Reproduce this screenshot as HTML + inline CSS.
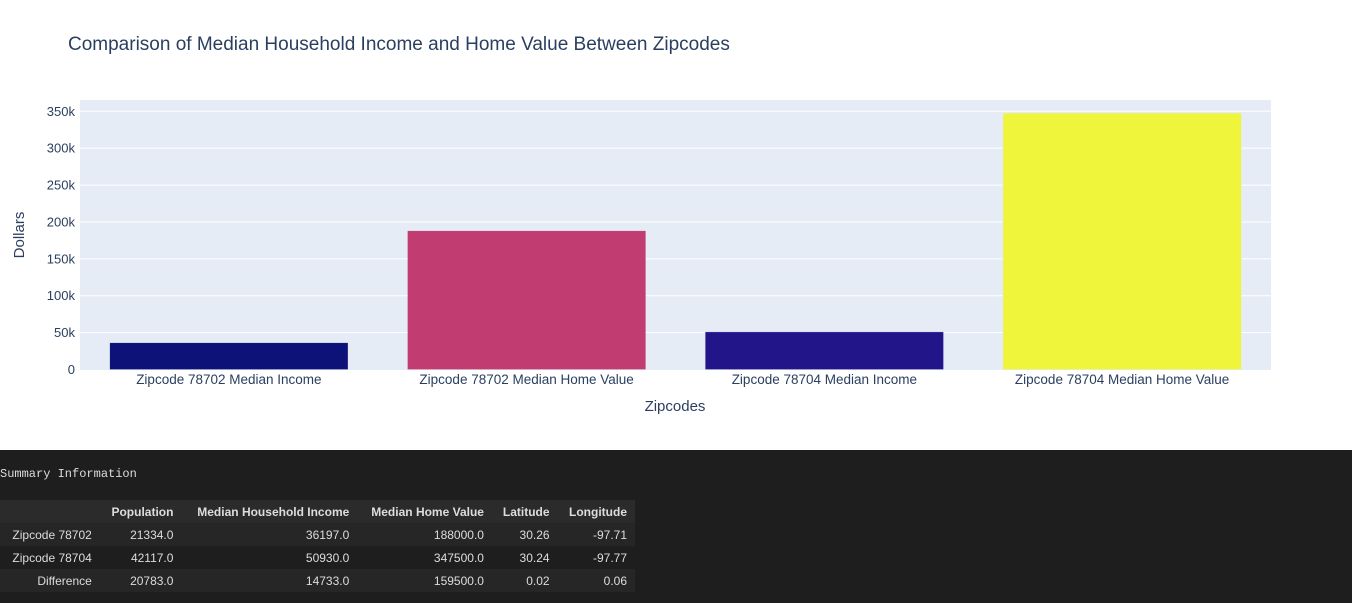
<!DOCTYPE html>
<html><head><meta charset="utf-8"><style>
body{margin:0;width:1352px;height:603px;overflow:hidden;background:#fff;font-family:"Liberation Sans",Arial,sans-serif}
#dark{position:absolute;left:0;top:450px;width:1352px;height:153px;background:#1e1e1e;color:#ddd}
#sumt{position:absolute;left:0;top:17px;font:12px "Liberation Mono",monospace;color:#ddd}
table{position:absolute;left:0;top:50px;border-collapse:collapse;font-size:12px;width:635px}
td,th{text-align:right;padding:0 8px;height:23px;white-space:nowrap}
th{font-weight:bold;background:#2b2b2b}
tr.s td{background:#262626}
</style></head><body>
<svg width="1352" height="450" style="position:absolute;left:0;top:0">
<text x="68" y="50" font-size="19" fill="#2a3f5f">Comparison of Median Household Income and Home Value Between Zipcodes</text>
<rect x="80" y="100" width="1191" height="270" fill="#e5ecf6"/>
<g id="grid"></g><g id="bars"></g><g id="ticks"></g>
<text x="24" y="235" font-size="15" fill="#2a3f5f" text-anchor="middle" transform="rotate(-90 24 235)">Dollars</text>
<text x="675" y="411" font-size="15" fill="#2a3f5f" text-anchor="middle">Zipcodes</text>
</svg>
<div id="dark">
<div id="sumt">Summary Information</div>
<table>
<tr><th></th><th>Population</th><th>Median Household Income</th><th>Median Home Value</th><th>Latitude</th><th>Longitude</th></tr>
<tr class="s"><td>Zipcode 78702</td><td>21334.0</td><td>36197.0</td><td>188000.0</td><td>30.26</td><td>-97.71</td></tr>
<tr><td>Zipcode 78704</td><td>42117.0</td><td>50930.0</td><td>347500.0</td><td>30.24</td><td>-97.77</td></tr>
<tr class="s"><td>Difference</td><td>20783.0</td><td>14733.0</td><td>159500.0</td><td>0.02</td><td>0.06</td></tr>
</table></div>
<script>
const categories=["Zipcode 78702 Median Income","Zipcode 78702 Median Home Value","Zipcode 78704 Median Income","Zipcode 78704 Median Home Value"];
const values=[36197,188000,50930,347500];
const colors=["#0d1278","#c03c71","#22158a","#eef53a"];
const yTicks=[0,50000,100000,150000,200000,250000,300000,350000];
const yTickLabels=["0","50k","100k","150k","200k","250k","300k","350k"];
const NS="http://www.w3.org/2000/svg";
const X0=80,W=1191,Y0=369.5,PER=(369.5-111.3)/350000;
const y=v=>Y0-v*PER, band=W/categories.length, xc=i=>X0+band*(i+0.5);
function mk(t,a,p){const e=document.createElementNS(NS,t);for(const k in a)e.setAttribute(k,a[k]);p.appendChild(e);return e;}
const g=document.getElementById('grid'),b=document.getElementById('bars'),tk=document.getElementById('ticks');
yTicks.forEach((v,i)=>{
 if(v>0){const l=mk('line',{x1:X0,x2:X0+W,y1:y(v),y2:y(v),stroke:'#fff','stroke-width':1},g);
 
 }
 const t=mk('text',{x:75,y:y(v)+4.5,'font-size':13,fill:'#2a3f5f','text-anchor':'end'},tk);t.textContent=yTickLabels[i];
 
 
});
values.forEach((v,i)=>{
 const bw=band*0.8;
 const r=mk('rect',{x:xc(i)-bw/2,y:y(v),width:bw,height:Y0-y(v),fill:colors[i],stroke:'rgba(229,236,246,0.5)','stroke-width':0.5},b);
 
 
 const t=mk('text',{x:xc(i),y:384,'font-size':13.5,fill:'#2a3f5f','text-anchor':'middle'},tk);t.textContent=categories[i];
 
 
});
</script>
</body></html>
